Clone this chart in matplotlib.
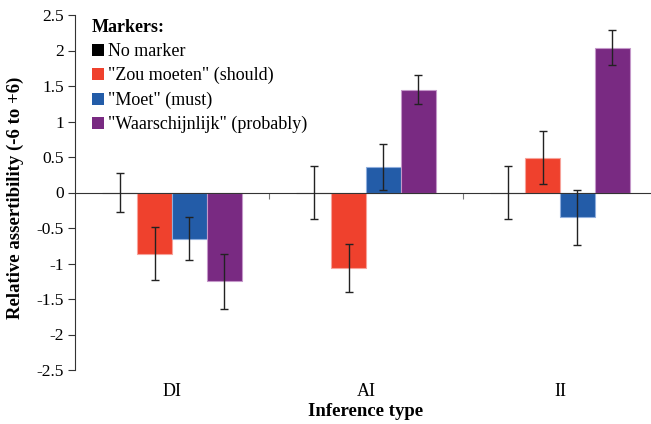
import numpy as np
import matplotlib.pyplot as plt
from matplotlib.patches import Patch
from matplotlib.transforms import blended_transform_factory

# data
categories = ["DI", "AI", "II"]
series = ['No marker', '"Zou moeten" (should)', '"Moet" (must)',
          '"Waarschijnlijk" (probably)']
values = [
    [0.0, 0.0, 0.0],
    [-0.86, -1.06, 0.49],
    [-0.65, 0.36, -0.35],
    [-1.25, 1.45, 2.04],
]
errors = [
    [0.27, 0.37, 0.38],
    [0.37, 0.34, 0.37],
    [0.30, 0.32, 0.39],
    [0.39, 0.21, 0.25],
]
colors = ["#000000", "#EF412D", "#235CA8", "#792A82"]
edges = ["#555555", "#F7A29A", "#8FAEDD", "#C497C9"]

plt.rcParams['font.family'] = ['Liberation Serif', 'DejaVu Serif']

fig = plt.figure(figsize=(6.51, 4.24), dpi=100)
ax = fig.add_axes([75 / 651, 1 - 370 / 424, 582 / 651, 355 / 424])

x = np.arange(len(categories))
w = 0.18
for i in range(len(series)):
    pos = x + (i - 1.5) * w
    ax.bar(pos, values[i], width=w, color=colors[i], edgecolor=edges[i],
           linewidth=0.8, zorder=2)
    ax.errorbar(pos, values[i], yerr=errors[i], fmt='none', ecolor='#222222',
                elinewidth=1.0, capsize=3, capthick=1.0, zorder=3)

ax.set_xlim(-0.5, 2.5)
ax.set_ylim(-2.5, 2.5)
ax.set_yticks(np.arange(-2.5, 2.51, 0.5))
ax.set_yticklabels([f"{v:g}" for v in np.arange(-2.5, 2.51, 0.5)])
ax.tick_params(axis='y', direction='out', length=5, width=0.8,
               labelsize=12.5, pad=3, color='#333333')

ax.spines['top'].set_visible(False)
ax.spines['right'].set_visible(False)
ax.spines['bottom'].set_position(('data', 0))
ax.spines['bottom'].set_color('#333333')
ax.spines['left'].set_color('#333333')
ax.spines['left'].set_linewidth(0.8)

ax.set_xticks([0.5, 1.5])
ax.set_xticklabels([])
ax.tick_params(axis='x', direction='out', length=4, width=0.8,
               color='#777777')

trans = blended_transform_factory(ax.transData, ax.transAxes)
for xi, c in zip(x, categories):
    ax.text(xi, -0.06, c, transform=trans, ha='center', va='center',
            fontsize=13)

fig.text(366 / 651, 1 - 411 / 424, "Inference type", ha='center',
         va='center', fontsize=13.5, fontweight='bold')
fig.text(15 / 651, 1 - 198 / 424, "Relative assertibility (-6 to +6)",
         ha='center', va='center', rotation=90, fontsize=13.5,
         fontweight='bold')

handles = [Patch(facecolor=c, edgecolor='none') for c in colors]
leg = ax.legend(handles, series, title="Markers:", loc='upper left',
                bbox_to_anchor=(0.017, 1.01), frameon=False, fontsize=13,
                handlelength=0.65, handleheight=0.65, handletextpad=0.25,
                labelspacing=0.4, borderaxespad=0.0,
                alignment='left',
                title_fontproperties={'weight': 'bold', 'size': 13})

fig.savefig("out.png", dpi=100)
